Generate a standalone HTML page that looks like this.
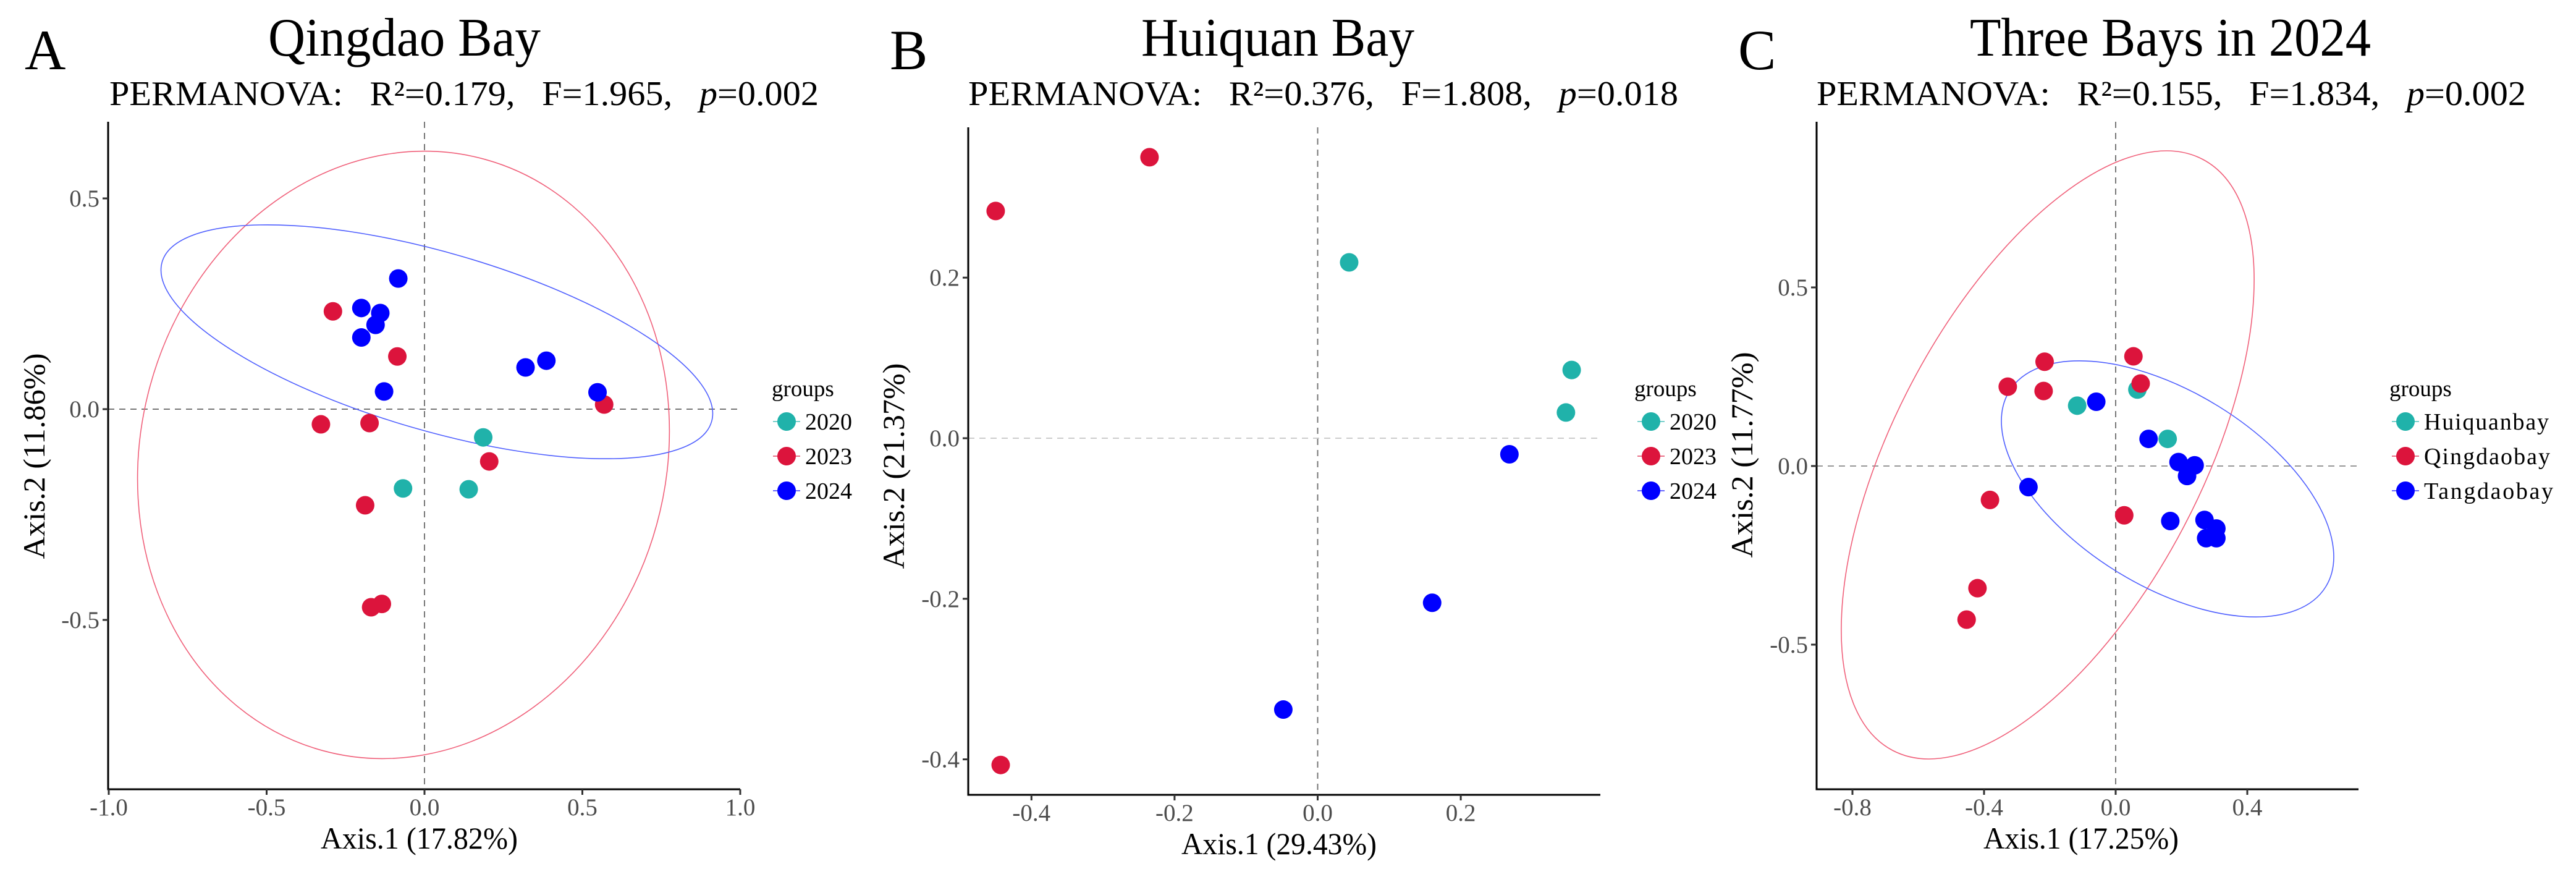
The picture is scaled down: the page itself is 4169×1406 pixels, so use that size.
<!DOCTYPE html>
<html><head><meta charset="utf-8"><style>
html,body{margin:0;padding:0;background:#fff;}
svg{display:block;font-family:"Liberation Serif",serif;}
</style></head><body>
<svg id="fig" width="4169" height="1406" viewBox="0 0 4169 1406" xmlns="http://www.w3.org/2000/svg"></svg>
<script>
// ---------- Panel A data (Qingdao Bay) ----------
const aGroups = ["2020","2023","2024"];
const aX2020 = [0.186,-0.068,0.14];
const aY2020 = [-0.067,-0.188,-0.19];
const aX2023 = [-0.29,-0.086,-0.328,-0.174,0.569,0.205,-0.188,-0.169,-0.135];
const aY2023 = [0.232,0.125,-0.036,-0.033,0.011,-0.124,-0.228,-0.47,-0.462];
const aX2024 = [-0.083,-0.20,-0.14,-0.155,-0.2,-0.128,0.32,0.386,0.548];
const aY2024 = [0.31,0.24,0.228,0.20,0.17,0.042,0.099,0.115,0.04];
const aXTicks = [-1.0,-0.5,0.0,0.5,1.0];
const aYTicks = [0.5,0.0,-0.5];
// ---------- Panel B data (Huiquan Bay) ----------
const bGroups = ["2020","2023","2024"];
const bX2020 = [0.044,0.355,0.347];
const bY2020 = [0.219,0.085,0.032];
const bX2023 = [-0.45,-0.235,-0.443];
const bY2023 = [0.283,0.35,-0.407];
const bX2024 = [0.268,0.160,-0.048];
const bY2024 = [-0.020,-0.205,-0.338];
const bXTicks = [-0.4,-0.2,0.0,0.2];
const bYTicks = [0.2,0.0,-0.2,-0.4];
// ---------- Panel C data (Three Bays in 2024) ----------
const cGroups = ["Huiquanbay","Qingdaobay","Tangdaobay"];
const cXHui = [-0.117,0.066,0.158];
const cYHui = [0.169,0.214,0.076];
const cXQing = [-0.216,-0.328,-0.219,0.054,0.076,-0.382,0.026,-0.42,-0.453];
const cYQing = [0.292,0.222,0.210,0.307,0.231,-0.095,-0.138,-0.342,-0.430];
const cXTang = [-0.059,0.100,0.191,0.240,0.217,-0.265,0.166,0.270,0.306,0.275,0.306];
const cYTang = [0.180,0.076,0.011,0.002,-0.028,-0.059,-0.154,-0.151,-0.175,-0.202,-0.202];
const cXTicks = [-0.8,-0.4,0.0,0.4];
const cYTicks = [0.5,0.0,-0.5];

const NS = "http://www.w3.org/2000/svg";
const svg = document.getElementById("fig");
const COLORS = ["#20B2AA","#DC143C","#0000FF"];
function mk(tag, attrs, parent){
  const e = document.createElementNS(NS, tag);
  for (const k in attrs) e.setAttribute(k, attrs[k]);
  (parent||svg).appendChild(e);
  return e;
}
function fmt(v){ return v.toFixed(1).replace("-0.0","0.0"); }

function panel(p){
  const g = mk("g", {});
  
  
  const sx = v => p.x0 + v * p.kx;
  const sy = v => p.y0 - v * p.ky;
  const L = mk("text", {x:p.letterX, y:112, "font-size":92}, g);
  L.textContent = p.letter;
  
  
  const T = mk("text", {x:p.titleX0, y:90, "font-size":88, textLength:p.titleX1-p.titleX0, lengthAdjust:"spacingAndGlyphs"}, g);
  T.textContent = p.title;
  
  
  const S = mk("text", {x:p.statX0, y:170, "font-size":56, textLength:p.statX1-p.statX0, lengthAdjust:"spacingAndGlyphs"}, g);
  S.innerHTML = 'PERMANOVA:\u00a0\u00a0\u00a0R\u00b2=' + p.r2 + ',\u00a0\u00a0\u00a0F=' + p.f + ',\u00a0\u00a0\u00a0<tspan font-style="italic">p</tspan>=' + p.pv;
  
  
  const vl = mk("line", {x1:sx(0), x2:sx(0), y1:p.top, y2:p.bottom, stroke:"#777", "stroke-width":2, "stroke-dasharray":"10,8"}, g);
  
  
  const hl = mk("line", {x1:p.left, x2:p.right, y1:sy(0), y2:sy(0), stroke:p.hcol, "stroke-width":2, "stroke-dasharray":"10,8"}, g);
  
  
  (p.ellipses||[]).forEach(el => {
    const e = mk("ellipse", {cx:el.cx, cy:el.cy, rx:el.a, ry:el.b, fill:"none", stroke:el.c, "stroke-width":1.6,
      transform:"rotate(" + el.rot + " " + el.cx + " " + el.cy + ")"}, g);
    
    
  });
  p.series.forEach((s, i) => {
    s.xs.forEach((xv, j) => {
      const c = mk("circle", {cx:sx(xv), cy:sy(s.ys[j]), r:15, fill:COLORS[i]}, g);
      
      
    });
  });
  const ax = mk("path", {d:"M"+p.left+" "+p.top+" V"+p.bottom+" H"+p.right, fill:"none", stroke:"#000", "stroke-width":3}, g);
  
  
  p.xt.forEach(v => {
    const tk = mk("line", {x1:sx(v), x2:sx(v), y1:p.bottom, y2:p.bottom+9, stroke:"#333", "stroke-width":3}, g);
    
    
    const t = mk("text", {x:sx(v), y:p.bottom+42, "font-size":39, fill:"#4d4d4d", "text-anchor":"middle"}, g);
    t.textContent = fmt(v);
    
    
  });
  p.yt.forEach(v => {
    const tk = mk("line", {x1:p.left-9, x2:p.left, y1:sy(v), y2:sy(v), stroke:"#333", "stroke-width":3}, g);
    
    
    const t = mk("text", {x:p.left-14, y:sy(v)+13, "font-size":39, fill:"#4d4d4d", "text-anchor":"end"}, g);
    t.textContent = fmt(v);
    
    
  });
  const xt = mk("text", {x:p.xtX0, y:p.bottom+96, "font-size":50, textLength:p.xtX1-p.xtX0, lengthAdjust:"spacingAndGlyphs"}, g);
  xt.textContent = p.xlab;
  
  
  const yt = mk("text", {x:0, y:0, "font-size":50, "text-anchor":"middle", textLength:333, lengthAdjust:"spacingAndGlyphs",
    transform:"translate(" + p.ytX + "," + p.ytY + ") rotate(-90)"}, g);
  yt.textContent = p.ylab;
  
  
  const lg = mk("text", {x:p.legX, y:641, "font-size":37}, g);
  lg.textContent = "groups";
  
  
  p.groups.forEach((name, i) => {
    const yy = 682 + i * 56;
    const ln = mk("line", {x1:p.keyX-22, x2:p.keyX+22, y1:yy, y2:yy, stroke:COLORS[i], "stroke-width":2, opacity:0.6}, g);
    
    
    const c = mk("circle", {cx:p.keyX, cy:yy, r:15, fill:COLORS[i]}, g);
    
    
    const t = mk("text", {x:p.keyX+30, y:yy+13, "font-size":38}, g);
    if (p.legLen) { t.setAttribute("textLength", p.legLen[i]); t.setAttribute("lengthAdjust", "spacing"); }
    t.textContent = name;
    
    
  });
}

panel({id:"qingdao", letter:"A", letterX:40, title:"Qingdao Bay", titleX0:434, titleX1:875, statX0:177, statX1:1325,
  r2:"0.179", f:"1.965", pv:"0.002", x0:687, kx:511, y0:662, ky:682, left:175, right:1198, top:197, bottom:1277,
  hcol:"#777", xt:aXTicks, yt:aYTicks, xlab:"Axis.1 (17.82%)", xtX0:519, xtX1:838, ytX:72, ytY:738, ylab:"Axis.2  (11.86%)",
  legX:1249, keyX:1273, groups:aGroups,
  series:[{xs:aX2020, ys:aY2020},{xs:aX2023, ys:aY2023},{xs:aX2024, ys:aY2024}],
  ellipses:[{cx:653, cy:736, a:496, b:425, rot:105.4, c:"#F0607A"},{cx:707, cy:553, a:463, b:144, rot:16.2, c:"#5060FF"}]});

panel({id:"huiquan", letter:"B", letterX:1440, title:"Huiquan Bay", titleX0:1847, titleX1:2289, statX0:1567, statX1:2716,
  r2:"0.376", f:"1.808", pv:"0.018", x0:2132.5, kx:1158, y0:709, ky:1299, left:1567, right:2590, top:206, bottom:1286,
  hcol:"#ccc", xt:bXTicks, yt:bYTicks, xlab:"Axis.1 (29.43%)", xtX0:1912, xtX1:2228, ytX:1463, ytY:754, ylab:"Axis.2 (21.37%)",
  legX:2645, keyX:2672, groups:bGroups,
  series:[{xs:bX2020, ys:bY2020},{xs:bX2023, ys:bY2023},{xs:bX2024, ys:bY2024}], ellipses:[]});

panel({id:"threebays", letter:"C", letterX:2813, title:"Three Bays in 2024", titleX0:3188, titleX1:3837, statX0:2940, statX1:4088,
  r2:"0.155", f:"1.834", pv:"0.002", x0:3424, kx:532.5, y0:754, ky:578, left:2940, right:3817, top:197, bottom:1277,
  hcol:"#999", xt:cXTicks, yt:cYTicks, xlab:"Axis.1 (17.25%)", xtX0:3210, xtX1:3526, ytX:2836, ytY:736, ylab:"Axis.2  (11.77%)",
  legX:3867, keyX:3893, groups:cGroups, legLen:[202,204,209],
  series:[{xs:cXHui, ys:cYHui},{xs:cXQing, ys:cYQing},{xs:cXTang, ys:cYTang}],
  ellipses:[{cx:3314, cy:736, a:540, b:249, rot:-62.3, c:"#F0607A"},{cx:3508, cy:791, a:301, b:157, rot:31.75, c:"#5060FF"}]});
</script>
</body></html>
